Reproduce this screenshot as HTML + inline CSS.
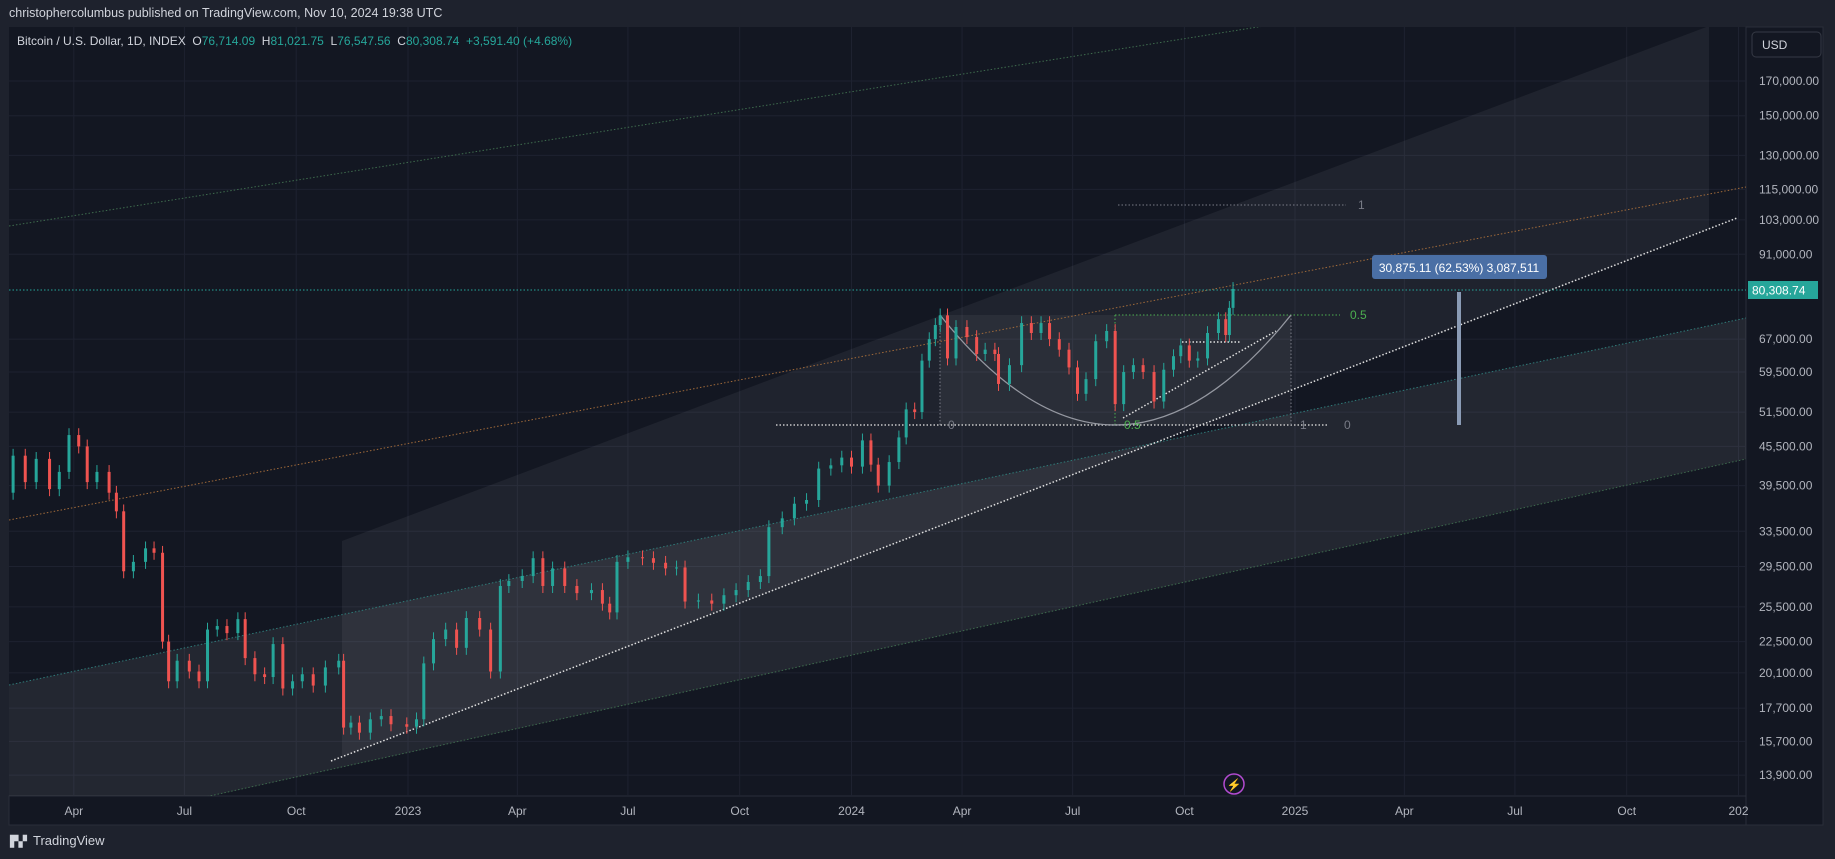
<!DOCTYPE html>
<html><head><meta charset="utf-8"><style>
body{margin:0;background:#1e222d;width:1835px;height:859px;overflow:hidden;font-family:"Liberation Sans",sans-serif;}
#hdr{position:absolute;left:9px;top:6px;color:#d1d4dc;font-size:12.5px;}
svg{position:absolute;left:0;top:0;}
</style></head><body>
<div id="hdr">christophercolumbus published on TradingView.com, Nov 10, 2024 19:38 UTC</div>
<svg id="c" width="1835" height="859"></svg>
<script>
const dates=["2022-02-01","2022-02-10","2022-02-20","2022-03-01","2022-03-12","2022-03-20","2022-03-28","2022-04-05","2022-04-12","2022-04-20","2022-04-30","2022-05-06","2022-05-12","2022-05-20","2022-05-30","2022-06-06","2022-06-13","2022-06-18","2022-06-25","2022-07-05","2022-07-13","2022-07-20","2022-07-28","2022-08-05","2022-08-14","2022-08-20","2022-08-28","2022-09-05","2022-09-12","2022-09-20","2022-09-28","2022-10-06","2022-10-15","2022-10-25","2022-11-05","2022-11-09","2022-11-15","2022-11-22","2022-12-01","2022-12-10","2022-12-18","2022-12-31",
"2023-01-08","2023-01-14","2023-01-22","2023-02-01","2023-02-10","2023-02-18","2023-03-01","2023-03-10","2023-03-18","2023-03-25","2023-04-05","2023-04-14","2023-04-22","2023-04-30","2023-05-10","2023-05-20","2023-06-01","2023-06-10","2023-06-16","2023-06-22","2023-07-01","2023-07-13","2023-07-22","2023-08-01","2023-08-10","2023-08-17","2023-08-28","2023-09-08","2023-09-18","2023-09-28","2023-10-08","2023-10-18","2023-10-25","2023-11-05","2023-11-15","2023-11-25","2023-12-05","2023-12-15","2023-12-24","2024-01-01",
"2024-01-10","2024-01-17","2024-01-23","2024-02-01","2024-02-09","2024-02-15","2024-02-22","2024-02-28","2024-03-05","2024-03-10","2024-03-14","2024-03-20","2024-03-27","2024-04-05","2024-04-13","2024-04-20","2024-04-28","2024-05-01","2024-05-10","2024-05-20","2024-05-28","2024-06-05","2024-06-12","2024-06-20","2024-06-28","2024-07-05","2024-07-12","2024-07-20","2024-07-29","2024-08-05","2024-08-12","2024-08-20","2024-08-28","2024-09-06","2024-09-14","2024-09-22","2024-09-28","2024-10-05","2024-10-12","2024-10-20","2024-10-29","2024-11-04","2024-11-07","2024-11-10"];
const closes=[38500,44000,40000,43500,39000,41500,47400,45500,40000,41500,38500,36000,29000,30000,31500,31000,22500,19500,21000,20200,19500,23500,23800,23200,24400,21200,20000,19800,22300,19000,19500,20000,19200,20500,21000,16500,16800,16200,17000,17200,16700,16550,
17000,20800,22700,23500,22000,24500,23500,20200,27500,28000,28500,30400,27500,29300,27500,26800,27100,25800,25000,30000,30500,30400,29900,29300,29400,26000,26100,25800,26600,27100,27900,28500,34000,35100,37000,37500,42000,42500,43700,42300,
46500,42600,39500,43000,47000,52000,51500,62000,67000,70500,73000,62500,70000,67500,63500,64500,63500,57000,61000,71000,68500,71000,67000,64500,60500,55000,58000,66500,69000,53000,59500,61000,59500,53500,60000,63000,65500,62000,62500,68500,72000,68000,75000,80300];
const priceTicks=[170000,150000,130000,115000,103000,91000,67000,59500,51500,45500,39500,33500,29500,25500,22500,20100,17700,15700,13900];
const timeTickDates=["2022-04-01","2022-07-01","2022-10-01","2023-01-01","2023-04-01","2023-07-01","2023-10-01","2024-01-01","2024-04-01","2024-07-01","2024-10-01","2025-01-01","2025-04-01","2025-07-01","2025-10-01","2026-01-01"];
const timeTickLabels=["Apr","Jul","Oct","2023","Apr","Jul","Oct","2024","Apr","Jul","Oct","2025","Apr","Jul","Oct","202"];
const lastPrice=80308.74;

const NS="http://www.w3.org/2000/svg",svg=document.getElementById('c');
const L=9,R=1746,T=27,B=796;
function yr(d){const dt=new Date(d+"T00:00:00Z");const y=dt.getUTCFullYear();return y+(dt-Date.UTC(y,0,1))/(365*864e5);}
function X(d){return 408+(yr(d)-2023)*443.5;}
function Y(p){return 3419.5-277.2*Math.log(p);}
function el(tag,attrs,parent){const e=document.createElementNS(NS,tag);for(const k in attrs)e.setAttribute(k,attrs[k]);(parent||svg).appendChild(e);return e;}
function fmt(v){return v.toLocaleString('en-US',{minimumFractionDigits:2,maximumFractionDigits:2});}

let e;
e=el('rect',{x:L,y:T,width:R-L,height:B-T,fill:'#131722'});


e=el('rect',{x:R,y:T,width:1823-R,height:B-T+29,fill:'#131722',stroke:'#2a2e39'});


e=el('rect',{x:L,y:B,width:R-L,height:29,fill:'#131722',stroke:'#2a2e39'});



const clip=el('clipPath',{id:'pc'});el('rect',{x:L,y:T,width:R-L,height:B-T},clip);
const g=el('g',{'clip-path':'url(#pc)'});



priceTicks.forEach(p=>{const l=el('line',{x1:L,x2:R,y1:Y(p),y2:Y(p),stroke:'#1e2230','stroke-width':1},g);

});
timeTickDates.forEach(d=>{const l=el('line',{x1:X(d),x2:X(d),y1:T,y2:B,stroke:'#1e2230','stroke-width':1},g);

});

e=el('polygon',{points:'9,685 1746,318 1746,459 211,796 9,796',fill:'rgba(255,255,255,0.07)'},g);


e=el('polygon',{points:'342,541 1709,26 1709,229 342,757',fill:'rgba(255,255,255,0.055)'},g);


e=el('rect',{x:940,y:315,width:351,height:110,fill:'rgba(255,255,255,0.05)'},g);



function dl(x1,y1,x2,y2,col,name,w){const l=el('line',{x1,y1,x2,y2,stroke:col,'stroke-width':w||1,'stroke-dasharray':'1.5 2'},g);

return l;}
dl(9,226,1264,26,'#3e6b4d','upper-green-line');
dl(9,520,1746,187,'#a06a3a','orange-resistance-line');
dl(9,685,1746,318,'#2f7a78','channel-upper-line');
dl(9,840,1746,459,'#3e6b4d','channel-lower-line');
dl(331,761,1737,218,'#e0e0e0','white-trendline',1.5);
dl(1118,205,1346,205,'#787b86','fib-level-1-line');
dl(1115,315,1340,315,'#4caf50','fib-level-05-line');
dl(776,425,1329,425,'#c8c8c8','fib-level-0-line',1.5);
dl(940,315,940,425,'#787b86','fib-left-edge');
dl(1115,315,1115,425,'#4caf50','fib-mid-edge');
dl(1291,315,1291,425,'#787b86','fib-right-edge');
dl(1123,418,1276,331,'#e0e0e0','cup-trendline',1.5);
dl(1182,342,1240,342,'#e0e0e0','handle-line',1.5);
e=el('path',{d:'M940,315 Q1115,535 1291,315',fill:'none',stroke:'#9598a1','stroke-width':1.3},g);


dl(L,290,R,290,'#26a69a','last-price-line');

function txt(x,y,s,col,size,name,anchor,parent){const t=el('text',{x,y,fill:col,'font-size':size,'font-family':'Liberation Sans, sans-serif','text-anchor':anchor||'start'},parent||g);t.textContent=s;

return t;}
txt(1358,209,'1','#787b86',12,'fib-label-1');
txt(1350,319,'0.5','#4caf50',12,'fib-label-05');
txt(948,429,'0','#787b86',12,'fib-label-0-left');
txt(1300,429,'1','#787b86',12,'fib-label-1-bottom');
txt(1344,429,'0','#787b86',12,'fib-label-0-right');
txt(1124,429,'0.5','#4caf50',12,'fib-label-05-bottom');

const cg=el('g',{},g);


for(let i=0;i<closes.length;i++){
  const o=i?closes[i-1]:closes[0]*0.98,c=closes[i],x=X(dates[i]);
  const up=c>=o,col=up?'#26a69a':'#ef5350';
  const hi=Math.max(o,c)*1.025,lo=Math.min(o,c)*0.975;
  const w=el('line',{x1:x,x2:x,y1:Y(hi),y2:Y(lo),stroke:col,'stroke-width':1},cg);
  
  
  const y1=Y(Math.max(o,c)),y2=Y(Math.min(o,c));
  const r=el('rect',{x:x-1.5,y:y1,width:3,height:Math.max(1,y2-y1),fill:col},cg);
  
  
}

e=el('line',{x1:1459,x2:1459,y1:292,y2:425,stroke:'#8a9bb5','stroke-width':4},g);


e=el('rect',{x:1372,y:255,width:175,height:24,rx:3,fill:'#4a6fa5'},g);


txt(1459,272,'30,875.11 (62.53%) 3,087,511','#ffffff',12,'measure-label','middle');

e=el('circle',{cx:1234,cy:784,r:10,fill:'none',stroke:'#b24bd0','stroke-width':1.5},g);


txt(1234,789,'⚡','#b24bd0',12,'event-glyph','middle');

const lg=el('text',{x:17,y:45,'font-size':12,'font-family':'Liberation Sans, sans-serif',fill:'#d1d4dc','xml:space':'preserve'});


lg.style.whiteSpace='pre';
[['Bitcoin / U.S. Dollar, 1D, INDEX  ','#d1d4dc'],['O','#d1d4dc'],['76,714.09  ','#26a69a'],['H','#d1d4dc'],['81,021.75  ','#26a69a'],['L','#d1d4dc'],['76,547.56  ','#26a69a'],['C','#d1d4dc'],['80,308.74  +3,591.40 (+4.68%)','#26a69a']].forEach(([s,c])=>{const t=el('tspan',{fill:c},lg);t.textContent=s;});

priceTicks.forEach(p=>txt(1759,Y(p)+4,fmt(p),'#b2b5be',12,'price-tick-label','start',svg));
e=el('rect',{x:1748,y:281,width:70,height:18,fill:'#26a69a'});


txt(1752,294.5,fmt(lastPrice),'#ffffff',12,'last-price-label','start',svg);
e=el('rect',{x:1752,y:32,width:69,height:25,rx:4,fill:'#131722',stroke:'#363a45'});


txt(1762,49,'USD','#d1d4dc',12,'currency-label','start',svg);

timeTickDates.forEach((d,i)=>txt(X(d),815,timeTickLabels[i],'#b2b5be',12,'time-tick-label','middle',svg));

txt(10,845,'▛▞','#d1d4dc',11,'tradingview-logo-icon','start',svg);
txt(33,845,'TradingView','#d1d4dc',13,'tradingview-logo-text','start',svg);
</script>
</body></html>
